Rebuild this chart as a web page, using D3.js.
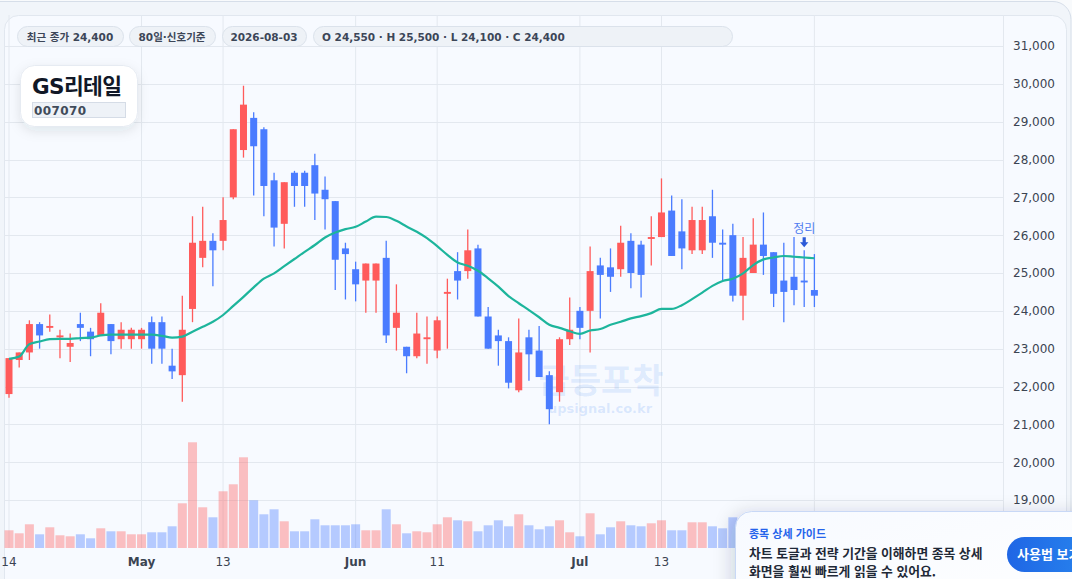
<!DOCTYPE html>
<html lang="ko">
  <head>
    <meta charset="UTF-8" />
    <title>GS리테일 차트</title>
    <style>
      html,
      body {
        margin: 0;
        padding: 0;
        background: #f8fafc;
      }
      svg {
        display: block;
        font-family: "DejaVu Sans", "Noto Sans CJK KR", sans-serif;
      }
    </style>
  </head>
  <body>
    <svg id="chart" width="1072" height="579"></svg>

    <script src="https://cdn.jsdelivr.net/npm/d3@7"></script>
    <script>
      const WIDTH = 1072;
      const HEIGHT = 579;

      // trading days (weekdays) shown on the chart
      const DATES = [
        "2026-04-14", "2026-04-15", "2026-04-16", "2026-04-17", "2026-04-20",
        "2026-04-21", "2026-04-22", "2026-04-23", "2026-04-24", "2026-04-27",
        "2026-04-28", "2026-04-29", "2026-04-30", "2026-05-01", "2026-05-04",
        "2026-05-05", "2026-05-06", "2026-05-07", "2026-05-08", "2026-05-11",
        "2026-05-12", "2026-05-13", "2026-05-14", "2026-05-15", "2026-05-18",
        "2026-05-19", "2026-05-20", "2026-05-21", "2026-05-22", "2026-05-25",
        "2026-05-26", "2026-05-27", "2026-05-28", "2026-05-29", "2026-06-01",
        "2026-06-02", "2026-06-03", "2026-06-04", "2026-06-05", "2026-06-08",
        "2026-06-09", "2026-06-10", "2026-06-11", "2026-06-12", "2026-06-15",
        "2026-06-16", "2026-06-17", "2026-06-18", "2026-06-19", "2026-06-22",
        "2026-06-23", "2026-06-24", "2026-06-25", "2026-06-26", "2026-06-29",
        "2026-06-30", "2026-07-01", "2026-07-02", "2026-07-03", "2026-07-06",
        "2026-07-07", "2026-07-08", "2026-07-09", "2026-07-10", "2026-07-13",
        "2026-07-14", "2026-07-15", "2026-07-16", "2026-07-17", "2026-07-20",
        "2026-07-21", "2026-07-22", "2026-07-23", "2026-07-24", "2026-07-27",
        "2026-07-28", "2026-07-29", "2026-07-30", "2026-07-31", "2026-08-03",
      ];

      const OPEN = [
        21800, 22700, 22900, 23650, 23550, 23300, 23050, 23650, 23450, 23350,
        23650, 23250, 23250, 23250, 23700, 23700, 22550, 22300, 24050, 25400,
        25850, 25850, 27000, 28250, 29100, 28800, 27450, 26300, 27650, 27650,
        27850, 27200, 26900, 25650, 25100, 24800, 24800, 25400, 23550, 23050,
        22800, 23250, 22950, 24450, 25050, 25050, 25650, 23850, 23350, 23200,
        21900, 23300, 22950, 22300, 21850, 23250, 24000, 24000, 25200, 25150,
        25100, 25850, 25750, 25900, 25950, 26650, 26100, 25600, 25600, 26500,
        25800, 26000, 24400, 25000, 25750, 25550, 24800, 24900, 24800, 24550,
      ];
      const HIGH = [
        22750, 22900, 23750, 23700, 23900, 23500, 23400, 23950, 23550, 24200,
        23650, 23700, 23550, 23550, 23850, 23850, 23000, 24400, 26500, 26750,
        26050, 27000, 28800, 29950, 29250, 28850, 27650, 27400, 27700, 27700,
        28150, 27550, 26900, 25800, 25300, 25250, 25250, 25850, 24700, 23050,
        23950, 23850, 23850, 24850, 25550, 26150, 25750, 24100, 23500, 23300,
        23800, 23500, 23600, 22400, 23300, 24350, 24100, 25700, 25400, 25650,
        26250, 26050, 25850, 26500, 27500, 27050, 26950, 26750, 26750, 27200,
        26150, 26300, 25950, 26450, 26600, 25550, 25800, 25950, 25600, 25500,
      ];
      const LOW = [
        21700, 22500, 22700, 23000, 23450, 22750, 22650, 23200, 22800, 23350,
        22850, 23000, 23000, 23000, 22600, 22600, 22200, 21600, 23700, 25150,
        24650, 25600, 26950, 28050, 27050, 26500, 25700, 25650, 26750, 26750,
        26400, 26150, 24550, 24300, 24250, 23950, 23950, 23150, 22950, 22350,
        22750, 22600, 22750, 23000, 24300, 24850, 23850, 23000, 22550, 21950,
        21850, 22150, 22250, 21000, 21600, 23100, 23250, 22900, 23800, 24500,
        24900, 24600, 24350, 25200, 25950, 25450, 25100, 25500, 25500, 25400,
        24800, 24250, 23750, 25000, 24950, 24100, 23700, 24150, 24100, 24100,
      ];
      const CLOSE = [
        22750, 22900, 23650, 23350, 23600, 23350, 23150, 23550, 23250, 23950,
        23200, 23500, 23500, 23500, 23000, 23000, 22400, 23500, 25800, 25850,
        25600, 26400, 28800, 29450, 28350, 27300, 26200, 27400, 27300, 27300,
        27100, 26950, 25350, 25500, 24700, 25250, 25250, 23350, 23950, 22800,
        23400, 23300, 23750, 24500, 24800, 25600, 23850, 23000, 23200, 22100,
        22900, 22850, 22250, 21400, 23250, 23500, 23550, 25050, 24950, 24900,
        25800, 25000, 24950, 25950, 26600, 25450, 25650, 26400, 26400, 25800,
        25750, 24400, 25400, 25750, 25450, 24450, 24500, 24550, 24750, 24400,
      ];
      const VOLUME = [
        177000, 147000, 237000, 137000, 207000, 127000, 117000, 137000, 97000, 197000,
        167000, 167000, 137000, 137000, 157000, 157000, 217000, 447000, 1057000, 407000,
        307000, 567000, 637000, 907000, 477000, 337000, 387000, 267000, 167000, 167000,
        287000, 227000, 227000, 227000, 237000, 177000, 177000, 387000, 237000, 147000,
        167000, 157000, 237000, 307000, 277000, 267000, 167000, 227000, 277000, 217000,
        337000, 227000, 187000, 217000, 277000, 157000, 117000, 347000, 137000, 207000,
        267000, 227000, 217000, 247000, 277000, 177000, 177000, 257000, 257000, 217000,
        197000, 307000, 280000, 240000, 210000, 260000, 230000, 250000, 200000, 190000,
      ];
      // 20-day moving average of the close
      const MA20 = [
        22730, 22790, 23120, 23190, 23250, 23260, 23260, 23280, 23290, 23350,
        23370, 23370, 23370, 23370, 23370, 23340, 23290, 23320, 23450, 23580,
        23710, 23890, 24130, 24370, 24620, 24850, 24990, 25180, 25370, 25560,
        25740, 25940, 26070, 26160, 26220, 26360, 26490, 26480, 26380, 26230,
        26090, 25920, 25710, 25480, 25280, 25190, 25060, 24860, 24640, 24390,
        24200, 24020, 23830, 23630, 23550, 23460, 23390, 23480, 23520, 23630,
        23710, 23800, 23860, 23940, 24050, 24050, 24150, 24310, 24480, 24660,
        24790, 24850, 24990, 25210, 25360, 25410, 25450, 25430, 25410, 25390,
      ];

      const PRICE_TICKS = [
        19000, 20000, 21000, 22000, 23000, 24000, 25000, 26000, 27000, 28000,
        29000, 30000, 31000,
      ];
      // gridline dates; the last one sits under the guide popup, so it has no label
      const TICK_DATES = [
        "2026-04-14", "2026-05-01", "2026-05-13", "2026-06-01",
        "2026-06-11", "2026-07-01", "2026-07-13", "2026-08-03",
      ];
      const TICK_LABELS = ["14", "May", "13", "Jun", "11", "Jul", "13"];
      const MONTH_LABELS = ["May", "Jun", "Jul"];

      const SIGNAL_DATES = ["2026-07-31"];
      const SIGNAL_LABELS = ["정리"];

      const INFO_PILLS = [
        "최근 종가 24,400",
        "80일·신호기준",
        "2026-08-03",
        "O 24,550 · H 25,500 · L 24,100 · C 24,400",
      ];
      const STOCK_NAME = "GS리테일";
      const STOCK_CODE = "007070";

      const UP = "#ff5b5b";
      const DOWN = "#4a7cff";
      const UP_VOL = "rgba(255, 91, 91, 0.38)";
      const DOWN_VOL = "rgba(74, 124, 255, 0.38)";
      const GRID = "#e3e8ef";
      const AXIS_TEXT = "#3b4452";

      const PLOT = { left: 4, right: 1003, top: 15, bottom: 548 };

      const svg = d3.select("#chart");
      const defs = svg.append("defs");

      const shadow = defs.append("filter").attr("id", "soft").attr("x", "-30%").attr("y", "-30%").attr("width", "160%").attr("height", "160%");
      shadow.append("feDropShadow").attr("dx", 0).attr("dy", 4).attr("stdDeviation", 6)
        .attr("flood-color", "#1e293b").attr("flood-opacity", 0.1);

      const popShadow = defs.append("filter").attr("id", "popShadow").attr("x", "-20%").attr("y", "-40%").attr("width", "140%").attr("height", "180%");
      popShadow.append("feDropShadow").attr("dx", -4).attr("dy", 2).attr("stdDeviation", 9)
        .attr("flood-color", "#1e293b").attr("flood-opacity", 0.16);

      const popFill = defs.append("linearGradient").attr("id", "popFill").attr("x1", 0).attr("y1", 0).attr("x2", 1).attr("y2", 1);
      popFill.append("stop").attr("offset", "0%").attr("stop-color", "#f7faff");
      popFill.append("stop").attr("offset", "100%").attr("stop-color", "#ffffff");

      const btnFill = defs.append("linearGradient").attr("id", "btnFill").attr("x1", 0).attr("y1", 0).attr("x2", 1).attr("y2", 0);
      btnFill.append("stop").attr("offset", "0%").attr("stop-color", "#1f66e5");
      btnFill.append("stop").attr("offset", "100%").attr("stop-color", "#2a8cf0");

      defs.append("clipPath").attr("id", "plotClip").append("rect")
        .attr("x", PLOT.left).attr("y", PLOT.top)
        .attr("width", PLOT.right - PLOT.left).attr("height", PLOT.bottom - PLOT.top);

      // frames
      svg.append("rect").attr("x", -20).attr("y", 1.5).attr("width", 1091).attr("height", 700)
        .attr("rx", 18).attr("fill", "#f1f5fa").attr("stroke", "#d6dee9");
      svg.append("rect").attr("x", 4.5).attr("y", 15.5).attr("width", 1062).attr("height", 620)
        .attr("rx", 14).attr("fill", "#f7faff").attr("stroke", "#e1e7ef");

      // scales
      const x = d3.scaleLinear().domain([0, DATES.length - 1]).range([9, 814.4]);
      const y = d3.scaleLinear().domain([19000, 31000]).range([500, 46]);
      const yVol = d3.scaleLinear().domain([0, 1000000]).range([548, 448]);

      // grid
      const grid = svg.append("g");
      grid.selectAll("line.h").data(PRICE_TICKS).join("line")
        .attr("class", "h")
        .attr("x1", PLOT.left).attr("x2", PLOT.right)
        .attr("y1", (d) => Math.round(y(d)) + 0.5).attr("y2", (d) => Math.round(y(d)) + 0.5)
        .attr("stroke", GRID);
      grid.selectAll("line.v").data(TICK_DATES).join("line")
        .attr("class", "v")
        .attr("x1", (d) => x(DATES.indexOf(d))).attr("x2", (d) => x(DATES.indexOf(d)))
        .attr("y1", PLOT.top).attr("y2", PLOT.bottom)
        .attr("stroke", GRID);
      grid.append("line").attr("x1", PLOT.right + 0.5).attr("x2", PLOT.right + 0.5)
        .attr("y1", PLOT.top).attr("y2", HEIGHT).attr("stroke", GRID);

      // y axis labels
      const yAxis = d3.axisRight(y).tickValues(PRICE_TICKS).tickFormat(d3.format(",")).tickSize(0).tickPadding(10);
      const yg = svg.append("g").attr("transform", `translate(${PLOT.right},0)`).call(yAxis);
      yg.select(".domain").remove();
      yg.selectAll("text").attr("font-size", 12).attr("fill", AXIS_TEXT)
        .attr("font-family", "DejaVu Sans, sans-serif");

      // x axis labels
      svg.append("g").selectAll("text").data(TICK_LABELS).join("text")
        .attr("x", (d, i) => x(DATES.indexOf(TICK_DATES[i])))
        .attr("y", 566)
        .attr("text-anchor", "middle")
        .attr("font-size", 12)
        .attr("fill", AXIS_TEXT)
        .attr("font-weight", (d) => (MONTH_LABELS.includes(d) ? "bold" : "normal"))
        .text((d) => d);

      const plot = svg.append("g").attr("clip-path", "url(#plotClip)");

      // watermark
      plot.append("text").attr("x", 601).attr("y", 393).attr("text-anchor", "middle")
        .attr("font-size", 34).attr("font-weight", "bold").attr("font-family", "Noto Sans CJK KR")
        .attr("fill", "rgba(59, 130, 246, 0.14)").text("급등포착");
      plot.append("text").attr("x", 600).attr("y", 413).attr("text-anchor", "middle")
        .attr("font-size", 13).attr("font-weight", "bold")
        .attr("fill", "rgba(59, 130, 246, 0.17)").text("upsignal.co.kr");

      const idx = d3.range(DATES.length);
      const isUp = (i) => CLOSE[i] >= OPEN[i];

      // volume
      plot.append("g").selectAll("rect").data(idx).join("rect")
        .attr("x", (i) => x(i) - 4.5)
        .attr("width", 9)
        .attr("y", (i) => yVol(VOLUME[i]))
        .attr("height", (i) => yVol(0) - yVol(VOLUME[i]))
        .attr("fill", (i) => (isUp(i) ? UP_VOL : DOWN_VOL));

      // candles
      const candles = plot.append("g");
      candles.selectAll("line").data(idx).join("line")
        .attr("x1", (i) => x(i)).attr("x2", (i) => x(i))
        .attr("y1", (i) => y(HIGH[i])).attr("y2", (i) => y(LOW[i]))
        .attr("stroke", (i) => (isUp(i) ? UP : DOWN))
        .attr("stroke-width", 1.3);
      candles.selectAll("rect").data(idx).join("rect")
        .attr("x", (i) => x(i) - 3.5)
        .attr("width", 7)
        .attr("y", (i) => y(Math.max(OPEN[i], CLOSE[i])))
        .attr("height", (i) => Math.max(1.5, Math.abs(y(OPEN[i]) - y(CLOSE[i]))))
        .attr("fill", (i) => (isUp(i) ? UP : DOWN));

      // moving average
      const maLine = d3.line().x((d, i) => x(i)).y((d) => y(d)).curve(d3.curveMonotoneX);
      plot.append("path").attr("d", maLine(MA20)).attr("fill", "none")
        .attr("stroke", "#1db59c").attr("stroke-width", 2.2).attr("stroke-linejoin", "round");

      // signal markers
      const sig = svg.append("g").selectAll("g").data(SIGNAL_DATES).join("g")
        .attr("transform", (d) => {
          const i = DATES.indexOf(d);
          return `translate(${x(i)},${y(HIGH[i]) - 3})`;
        });
      sig.append("path").attr("d", "M-1.6,-10 L1.6,-10 L1.6,-5 L4.2,-5 L0,0 L-4.2,-5 L-1.6,-5 Z")
        .attr("fill", "#2c5ad8");
      sig.append("text").attr("y", -14).attr("text-anchor", "middle").attr("font-size", 12)
        .attr("font-family", "Noto Sans CJK KR").attr("fill", "#4f7cf0")
        .text((d, i) => SIGNAL_LABELS[i]);

      // info pills
      const PILL_BOX = [
        { x: 17, w: 106, anchor: "middle" },
        { x: 129, w: 86, anchor: "middle" },
        { x: 222, w: 84, anchor: "middle" },
        { x: 313, w: 419, anchor: "start" },
      ];
      const pills = svg.append("g").selectAll("g").data(INFO_PILLS).join("g");
      pills.append("rect")
        .attr("x", (d, i) => PILL_BOX[i].x + 0.5).attr("y", 26.5)
        .attr("width", (d, i) => PILL_BOX[i].w).attr("height", 20).attr("rx", 10)
        .attr("fill", "#eef2f7").attr("stroke", "#dbe2eb");
      pills.append("text")
        .attr("x", (d, i) => (PILL_BOX[i].anchor === "middle" ? PILL_BOX[i].x + PILL_BOX[i].w / 2 : PILL_BOX[i].x + 9))
        .attr("y", 40.5)
        .attr("text-anchor", (d, i) => PILL_BOX[i].anchor)
        .attr("font-size", 10.5).attr("font-weight", "bold").attr("fill", "#3c4657")
        .text((d) => d);

      // title card
      const card = svg.append("g");
      card.append("rect").attr("x", 20.5).attr("y", 65.5).attr("width", 117).attr("height", 61).attr("rx", 14)
        .attr("fill", "#ffffff").attr("stroke", "#e6ebf2").attr("filter", "url(#soft)");
      card.append("text").attr("x", 32).attr("y", 93.5).attr("font-size", 21.5).attr("font-weight", "bold")
        .attr("fill", "#111827").attr("letter-spacing", -0.6).text(STOCK_NAME);
      card.append("rect").attr("x", 32.5).attr("y", 102.5).attr("width", 93).attr("height", 15)
        .attr("fill", "#eef2f7").attr("stroke", "#d5dce6");
      card.append("text").attr("x", 34).attr("y", 114.5).attr("font-size", 12).attr("font-weight", "bold")
        .attr("fill", "#414b5a").attr("letter-spacing", 0.4).text(STOCK_CODE);

      // guide popup
      const pop = svg.append("g");
      pop.append("rect").attr("x", 735.5).attr("y", 511.5).attr("width", 400).attr("height", 120).attr("rx", 16)
        .attr("fill", "url(#popFill)").attr("stroke", "#c8d8f6").attr("filter", "url(#popShadow)");
      pop.append("text").attr("x", 749).attr("y", 538).attr("font-size", 11).attr("font-weight", "bold")
        .attr("font-family", "Noto Sans CJK KR").attr("fill", "#2563eb").text("종목 상세 가이드");
      pop.append("text").attr("x", 749).attr("y", 558).attr("font-size", 12.8).attr("font-weight", "bold")
        .attr("font-family", "Noto Sans CJK KR").attr("fill", "#1f2937").text("차트 토글과 전략 기간을 이해하면 종목 상세");
      pop.append("text").attr("x", 749).attr("y", 576).attr("font-size", 12.8).attr("font-weight", "bold")
        .attr("font-family", "Noto Sans CJK KR").attr("fill", "#1f2937").text("화면을 훨씬 빠르게 읽을 수 있어요.");
      pop.append("rect").attr("x", 1007).attr("y", 537).attr("width", 110).attr("height", 35).attr("rx", 17.5)
        .attr("fill", "url(#btnFill)");
      pop.append("text").attr("x", 1017).attr("y", 559).attr("font-size", 13).attr("font-weight", "bold")
        .attr("font-family", "Noto Sans CJK KR").attr("fill", "#ffffff").text("사용법 보기");
    </script>
  </body>
</html>
